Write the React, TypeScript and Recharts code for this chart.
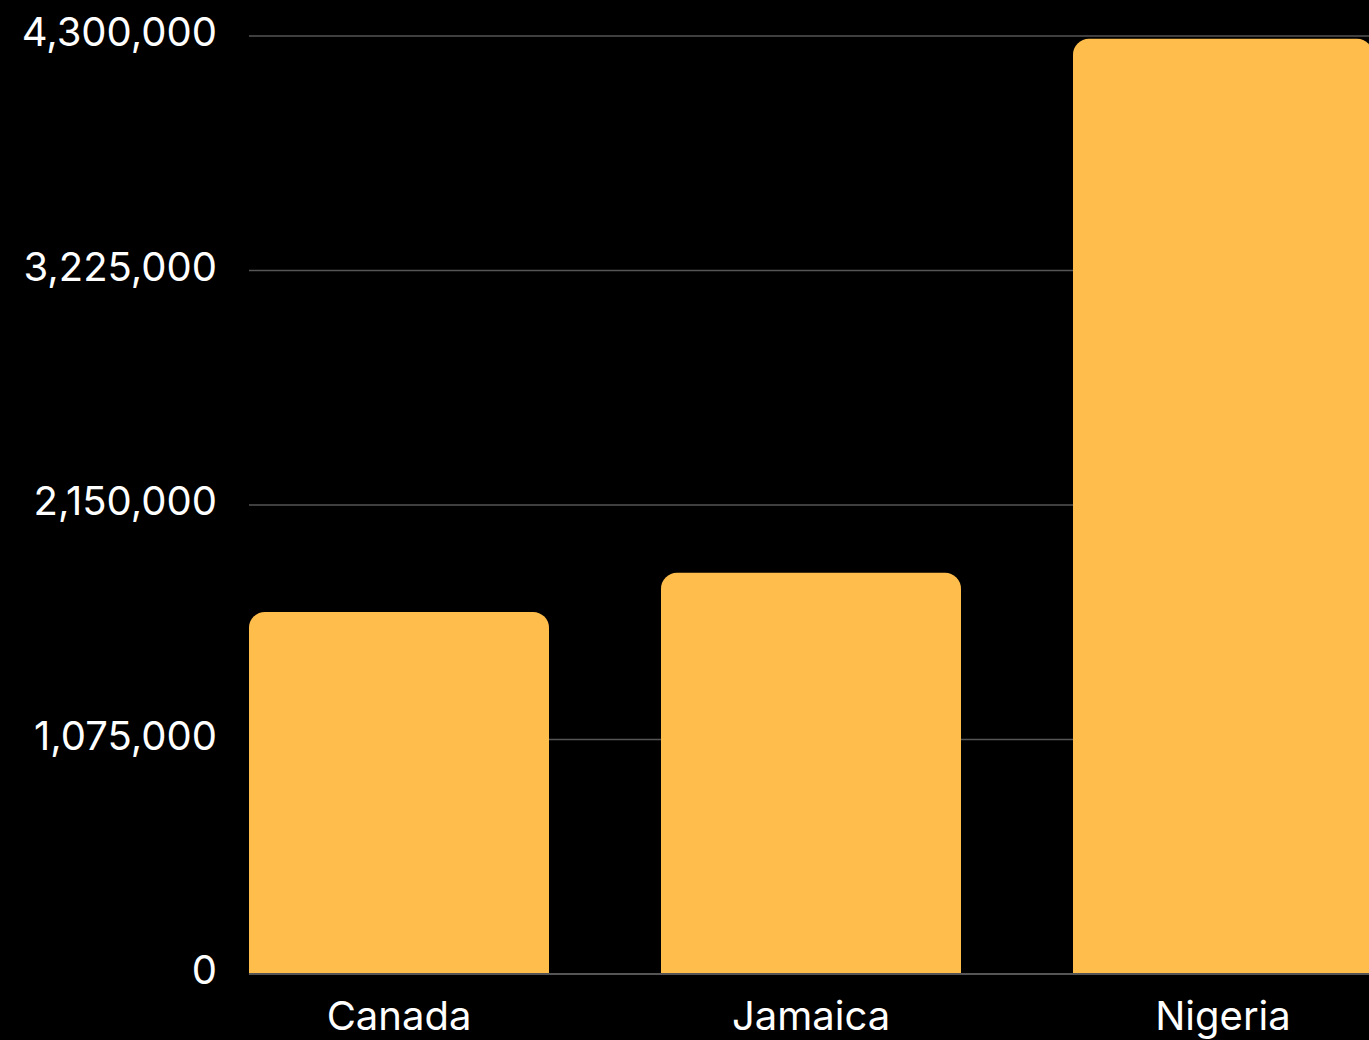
import { BarChart, Bar, XAxis, YAxis, CartesianGrid } from 'recharts';

const countries = ['Canada', 'Jamaica', 'Nigeria'];
const population = [1660000, 1839000, 4287000];
const yTicks = [0, 1075000, 2150000, 3225000, 4300000];

const chartData = countries.map((country, i) => ({ country, population: population[i] }));

const fmt = (v: number) => v.toLocaleString('en-US');

const App = () => {
  return (
    <div
      style={{
        position: 'absolute',
        left: 0,
        top: 0,
        width: 1369,
        height: 1040,
        overflow: 'hidden',
        background: '#000',
        fontFamily: 'Inter, sans-serif',
      }}
    >
      <BarChart
        width={1400}
        height={1040}
        data={chartData}
        margin={{ top: 36, right: 27, bottom: 0, left: 0 }}
        barCategoryGap={56}
      >
        <CartesianGrid vertical={false} stroke="#555" strokeWidth={1.5} />
        <XAxis
          dataKey="country"
          height={66}
          padding={{ left: -56, right: -56 }}
          axisLine={{ stroke: '#555', strokeWidth: 2 }}
          tickLine={false}
          tick={{ fill: '#fff', fontSize: 40 }}
          tickMargin={22}
        />
        <YAxis
          width={249}
          domain={[0, 4300000]}
          ticks={yTicks}
          tickFormatter={fmt}
          axisLine={false}
          tickLine={false}
          tick={{ fill: '#fff', fontSize: 40, dy: -4 }}
          tickMargin={26}
        />
        <Bar dataKey="population" fill="#FFBD4B" radius={[16, 16, 0, 0]} isAnimationActive={false} />
      </BarChart>
    </div>
  );
};

export default App;
